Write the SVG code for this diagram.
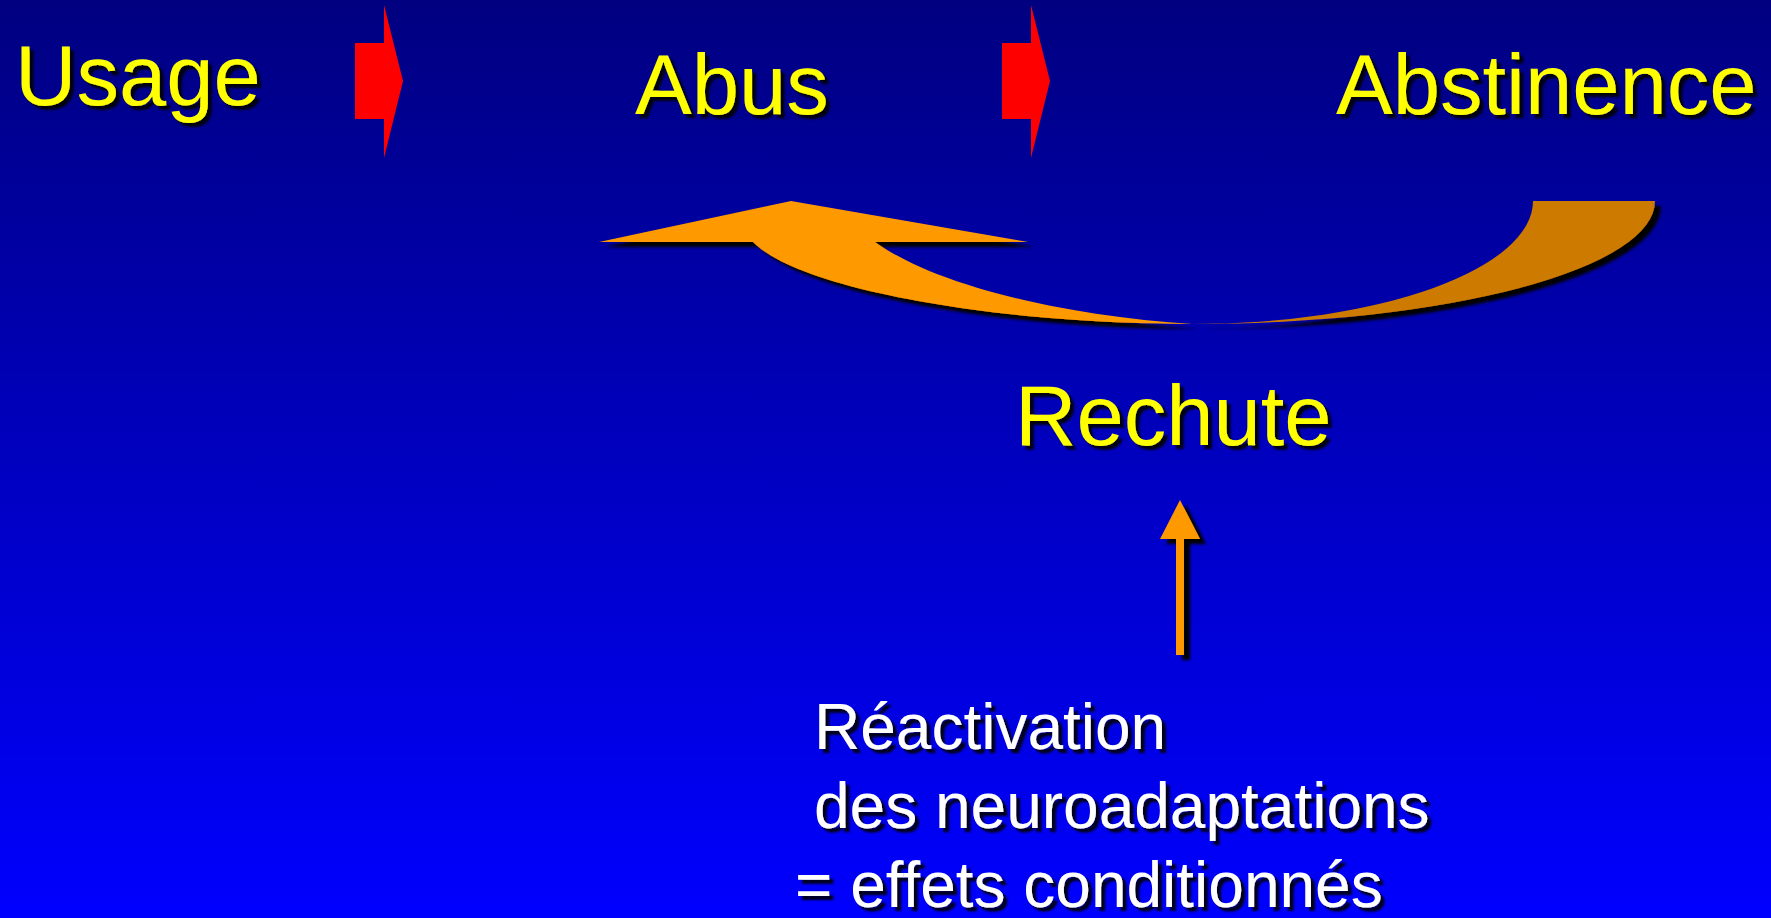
<svg xmlns="http://www.w3.org/2000/svg" width="1771" height="918" viewBox="0 0 1771 918">
  <defs>
    <linearGradient id="bg" x1="0" y1="0" x2="0" y2="1">
      <stop offset="0" stop-color="#000080"/>
      <stop offset="1" stop-color="#0000FF"/>
    </linearGradient>
    <filter id="tshadow" x="-10%" y="-20%" width="130%" height="150%">
      <feDropShadow dx="4" dy="4" stdDeviation="1.2" flood-color="#000000" flood-opacity="0.9"/>
    </filter>
    <filter id="sshadow" x="-10%" y="-20%" width="130%" height="150%">
      <feDropShadow dx="6" dy="5" stdDeviation="1.5" flood-color="#000000" flood-opacity="1"/>
    </filter>
  </defs>
  <style>
    .lbl { font-family: "Liberation Sans", Arial, sans-serif; }
    .y { fill: #FFFF00; font-size: 85px; }
    .w { fill: #FFFFFF; font-size: 64px; }
    .red { fill: #FF0000; }
  </style>
  <rect x="0" y="0" width="1771" height="918" fill="url(#bg)"/>

  <g id="usage" filter="url(#tshadow)">
    <text class="lbl y" x="15" y="105">Usage</text>
  </g>
  <g id="abus" filter="url(#tshadow)">
    <text class="lbl y" x="635" y="114">Abus</text>
  </g>
  <g id="abstinence" filter="url(#tshadow)">
    <text class="lbl y" x="1336" y="114">Abstinence</text>
  </g>
  <g id="rechute" filter="url(#tshadow)">
    <text class="lbl y" x="1015" y="445">Rechute</text>
  </g>
  <g id="reactivation" filter="url(#tshadow)">
    <text class="lbl w" x="814" y="749">Réactivation</text>
    <text class="lbl w" x="814" y="828">des neuroadaptations</text>
    <text class="lbl w" x="795" y="907">= effets conditionnés</text>
  </g>

  <g id="connectors">
    <polygon class="red" points="355,43 384,43 384,5 403,81 384,158 384,119 355,119"/>
    <polygon class="red" points="1002,43 1031,43 1031,5 1050,81 1031,158 1031,119 1002,119"/>
    <g filter="url(#sshadow)">
      <path d="M599,242 L791,201 L1028,242 L875,242 C940,288 1070,316 1193,324 C1000,324 800,290 753,242 Z" fill="#FF9900"/>
      <path d="M1193,324 A462,123 0 0 0 1655,201 L1533,201 A340,123 0 0 1 1193,324 Z" fill="#CC7A00"/>
    </g>
    <g filter="url(#sshadow)">
      <polygon points="1176,655 1176,539 1160,539 1180,500 1200,539 1184,539 1184,655" fill="#FF9900"/>
    </g>
  </g>
</svg>
